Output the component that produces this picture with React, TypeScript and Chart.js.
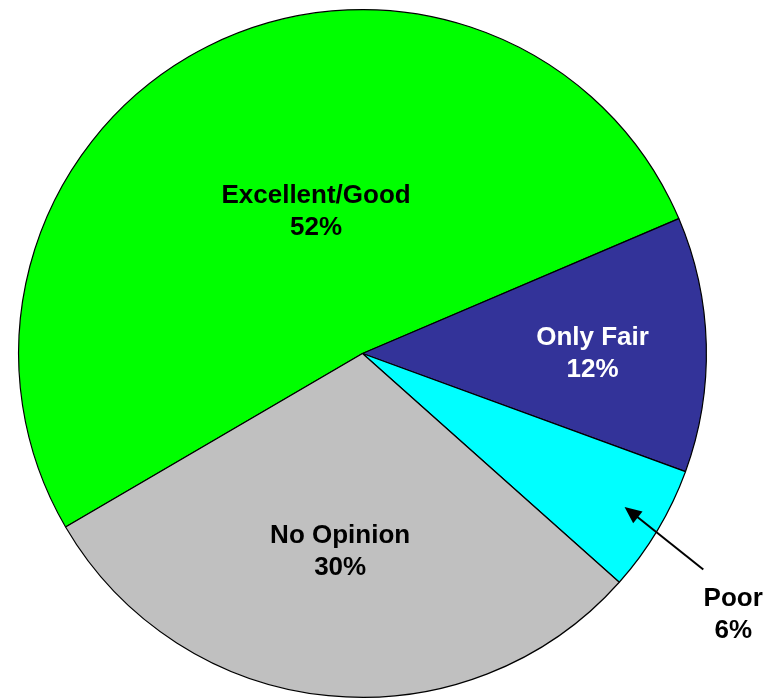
import React, { useEffect, useRef } from "react";
import { Chart, registerables } from "chart.js";

Chart.register(...registerables);

const categories = ["Excellent/Good", "Only Fair", "Poor", "No Opinion"];
const values = [52, 12, 6, 30];
const colors = ["#00FF00", "#333399", "#00FFFF", "#C0C0C0"];
const textColors = ["#000000", "#FFFFFF", "#000000", "#000000"];
// label block position as fraction of radius, relative to pie centre
const labelOffsets = [
  [-0.135, -0.413],
  [0.669, 0.002],
  [1.078, 0.759],
  [-0.065, 0.576],
];
// arrow for the Poor label: from -> to (fractions of radius)
const arrowFrom = [0.991, 0.628];
const arrowTo = [0.762, 0.446];

const labelPlugin = {
  id: "pieLabels",
  afterDatasetsDraw(chart: any) {
    const ctx = chart.ctx;
    const meta = chart.getDatasetMeta(0);
    const arc = meta.data[0];
    const cx = arc.x;
    const cy = arc.y;
    const r = arc.outerRadius;
    ctx.save();
    ctx.font = "bold 26px 'Liberation Sans', Arial, sans-serif";
    ctx.textAlign = "center";
    ctx.textBaseline = "middle";
    categories.forEach((c, i) => {
      const x = cx + labelOffsets[i][0] * r;
      const y = cy + labelOffsets[i][1] * r;
      ctx.fillStyle = textColors[i];
      ctx.fillText(c, x, y - 16);
      ctx.fillText(values[i] + "%", x, y + 16);
    });
    // arrow
    const x1 = cx + arrowFrom[0] * r;
    const y1 = cy + arrowFrom[1] * r;
    const x2 = cx + arrowTo[0] * r;
    const y2 = cy + arrowTo[1] * r;
    const ang = Math.atan2(y2 - y1, x2 - x1);
    const head = 17;
    const hw = 7.5;
    ctx.strokeStyle = "#000";
    ctx.lineWidth = 2;
    ctx.beginPath();
    ctx.moveTo(x1, y1);
    ctx.lineTo(x2 - Math.cos(ang) * head * 0.8, y2 - Math.sin(ang) * head * 0.8);
    ctx.stroke();
    ctx.fillStyle = "#000";
    ctx.beginPath();
    ctx.moveTo(x2, y2);
    ctx.lineTo(
      x2 - Math.cos(ang) * head + Math.sin(ang) * hw,
      y2 - Math.sin(ang) * head - Math.cos(ang) * hw
    );
    ctx.lineTo(
      x2 - Math.cos(ang) * head - Math.sin(ang) * hw,
      y2 - Math.sin(ang) * head + Math.cos(ang) * hw
    );
    ctx.closePath();
    ctx.fill();
    ctx.restore();
  },
};

export default function App() {
  const canvasRef = useRef<HTMLCanvasElement>(null);
  useEffect(() => {
    if (!canvasRef.current) return;
    const chart = new Chart(canvasRef.current, {
      type: "pie",
      data: {
        labels: categories,
        datasets: [
          {
            data: values,
            backgroundColor: colors,
            borderColor: "#000000",
            borderWidth: 1.2,
            hoverOffset: 0,
          },
        ],
      },
      options: {
        animation: false,
        responsive: true,
        maintainAspectRatio: false,
        rotation: 239.7,
        layout: { padding: { left: 18, right: 71, top: 9, bottom: 1 } },
        plugins: {
          legend: { display: false },
          tooltip: { enabled: false },
        },
      },
      plugins: [labelPlugin],
    });
    return () => chart.destroy();
  }, []);
  return (
    <div
      style={{
        position: "fixed",
        left: 0,
        top: 0,
        width: 778,
        height: 699,
        background: "#fff",
      }}
    >
      <canvas ref={canvasRef} />
    </div>
  );
}
